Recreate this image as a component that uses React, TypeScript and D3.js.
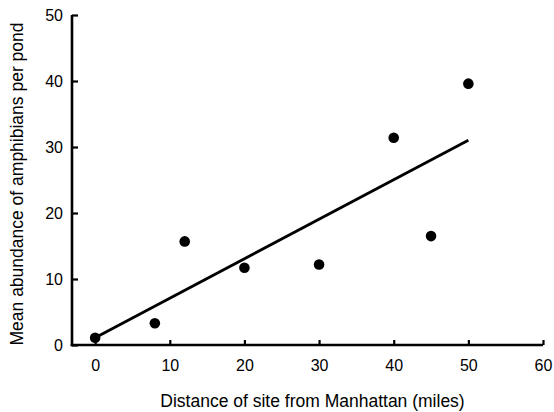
import React, { useRef, useEffect } from 'react';
import * as d3 from 'd3';

// distance of site from Manhattan (miles)
const distances = [0, 8, 12, 20, 30, 40, 45, 50];
// mean abundance of amphibians per pond
const abundances = [1.1, 3.3, 15.7, 11.7, 12.2, 31.4, 16.5, 39.6];

const xTicks = [0, 10, 20, 30, 40, 50, 60];
const yTicks = [0, 10, 20, 30, 40, 50];

const xLabel = 'Distance of site from Manhattan (miles)';
const yLabel = 'Mean abundance of amphibians per pond';

const width = 554;
const height = 412;

const ScatterChart: React.FC = () => {
    const svgRef = useRef<SVGSVGElement>(null);

    useEffect(() => {
        if (!svgRef.current) return;
        const svg = d3.select(svgRef.current);
        svg.selectAll('*').remove();

        const font = 'Liberation Sans, Arial, sans-serif';
        const left = 72, right = 543, top = 15, bottom = 345;

        const x = d3.scaleLinear().domain([-3.1, 60]).range([left, right]);
        const y = d3.scaleLinear().domain([0, 50]).range([bottom, top]);

        // least-squares fit
        const mx = d3.mean(distances)!;
        const my = d3.mean(abundances)!;
        const sxy = d3.sum(distances, (d, i) => (d - mx) * (abundances[i] - my));
        const sxx = d3.sum(distances, d => (d - mx) ** 2);
        const slope = sxy / sxx;
        const intercept = my - slope * mx;
        const xExtent = d3.extent(distances) as [number, number];

        const xAxis = d3.axisBottom(x).tickValues(xTicks).tickSize(-5).tickPadding(15)
            .tickFormat(d3.format('d'));
        const yAxis = d3.axisLeft(y).tickValues(yTicks).tickSize(-6).tickPadding(9)
            .tickFormat(d3.format('d'));

        const gx = svg.append('g').attr('transform', `translate(0,${bottom})`).call(xAxis);
        const gy = svg.append('g').attr('transform', `translate(${left},0)`).call(yAxis);

        [gx, gy].forEach(g => {
            g.select('.domain').attr('stroke', '#000').attr('stroke-width', 2.6);
            g.selectAll('.tick line').attr('stroke', '#000').attr('stroke-width', 2.2);
            g.selectAll('.tick text').attr('fill', '#000')
                .style('font-family', font).style('font-size', '16px');
        });
        gx.select('.domain').attr('d', `M${left - 1.3},0H${right}`);
        gy.select('.domain').attr('d', `M0,${top}V${bottom + 1.3}`);
        gx.selectAll('.tick text').attr('dy', '0.71em');

        svg.append('line')
            .attr('x1', x(xExtent[0])).attr('y1', y(intercept + slope * xExtent[0]))
            .attr('x2', x(xExtent[1])).attr('y2', y(intercept + slope * xExtent[1]))
            .attr('stroke', '#000').attr('stroke-width', 2.8);

        svg.append('g').selectAll('circle')
            .data(distances)
            .join('circle')
            .attr('cx', d => x(d))
            .attr('cy', (d, i) => y(abundances[i]))
            .attr('r', 5.3)
            .attr('fill', '#000');

        svg.append('text')
            .attr('x', 312.5)
            .attr('y', 407)
            .attr('text-anchor', 'middle')
            .style('font-family', font).style('font-size', '17.5px')
            .text(xLabel);

        svg.append('text')
            .attr('transform', `translate(23,184) rotate(-90)`)
            .attr('text-anchor', 'middle')
            .style('font-family', font).style('font-size', '17.5px')
            .text(yLabel);
    }, []);

    return <svg ref={svgRef} width={width} height={height} viewBox={`0 0 ${width} ${height}`} style={{ display: 'block' }} />;
};

export default function App() {
    return (
        <div style={{ position: 'absolute', left: 0, top: 0 }}>
            <ScatterChart />
        </div>
    );
}
